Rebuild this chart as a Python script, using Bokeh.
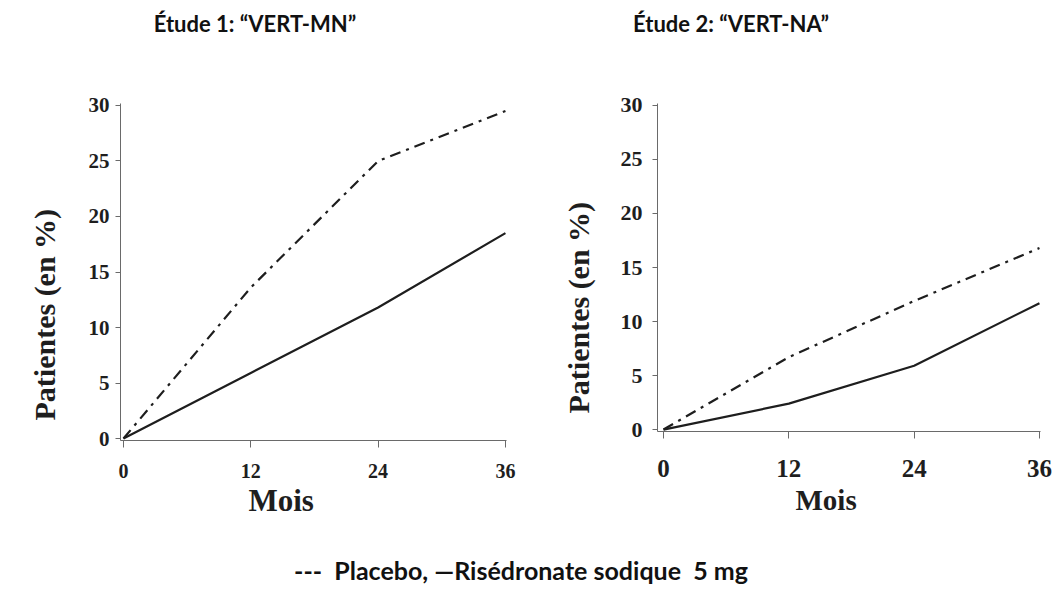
from bokeh.plotting import figure
from bokeh.models import Range1d, FixedTicker, Div, Title
from bokeh.layouts import row, column
from bokeh.embed import file_html
from bokeh.resources import INLINE

months = [0, 12, 24, 36]
mn_placebo = [0, 13.6, 25.0, 29.5]
mn_rise = [0, 5.9, 11.8, 18.5]
na_placebo = [0, 6.7, 11.9, 16.8]
na_rise = [0, 2.4, 5.9, 11.7]
x_ticks = [0, 12, 24, 36]
y_ticks = [0, 5, 10, 15, 20, 25, 30]
titles = ["Étude 1: \u201cVERT-MN\u201d", "Étude 2: \u201cVERT-NA\u201d"]
y_title = "Patientes (en %)"
x_title = "Mois"
legend_text = "---  Placebo, \u2014Risédronate sodique  5 mg"

INK = "#1e1e1e"
AXIS = "#6a6a6a"
SERIF = "Liberation Serif"
SANS = "Lato"


def make(width, height, bl, br, fw, fh, xr, placebo, rise, ytick_fs, xtick_fs,
         ystand, xstand, mois_fs, mois_off, mois_stand, ylab_off, ylab_stand):
    p = figure(width=width, height=height, output_backend="svg",
               toolbar_location=None, min_border_left=bl, min_border_right=br,
               min_border_top=59, min_border_bottom=height - 59 - fh,
               frame_width=fw, frame_height=fh, margin=0,
               x_range=Range1d(*xr), y_range=Range1d(-0.18, 30.18))
    p.outline_line_color = None
    p.grid.visible = False
    for ax in (p.xaxis[0], p.yaxis[0]):
        ax.axis_line_color = AXIS
        ax.axis_line_width = 1
        ax.major_tick_line_color = AXIS
        ax.minor_tick_line_color = None
        ax.major_tick_in = 0
        ax.major_label_text_font = SERIF
        ax.major_label_text_font_style = "bold"
        ax.major_label_text_color = INK
    p.xaxis.ticker = FixedTicker(ticks=x_ticks)
    p.yaxis.ticker = FixedTicker(ticks=y_ticks)
    p.xaxis.major_tick_out = 7
    p.yaxis.major_tick_out = 5
    p.xaxis.major_label_text_font_size = xtick_fs
    p.yaxis.major_label_text_font_size = ytick_fs
    p.xaxis.major_label_standoff = xstand
    p.yaxis.major_label_standoff = ystand

    p.line(months, placebo, line_color=INK, line_width=2.2, line_dash="11 6 3 6")
    p.line(months, rise, line_color=INK, line_width=2.2)

    p.add_layout(Title(text=x_title, align="left", offset=mois_off,
                       standoff=mois_stand, text_font=SERIF, text_font_style="bold",
                       text_font_size=mois_fs, text_color=INK), "below")
    p.add_layout(Title(text=y_title, align="left", offset=ylab_off,
                       standoff=ylab_stand, text_font=SERIF, text_font_style="bold",
                       text_font_size="30px", text_color=INK), "left")
    return p


H = 496
p1 = make(528, H, 120, 22, 386, 337, (-0.28, 36.1), mn_placebo, mn_rise,
          "21px", "20px", 6, 16, "31px", 128, 0, 20, 50)
p2 = make(528, H, 129, 16, 383, 328, (-0.575, 36.1), na_placebo, na_rise,
          "22px", "25px", 10, 21, "29px", 138, 4, 18, 45)

span = ("position:absolute;transform:translateX(-50%);white-space:pre;"
        "font-family:Lato;font-weight:bold;color:#111111;")
top_html = (
    '<div style="position:relative;width:1056px;height:44px;overflow:hidden">'
    f'<span style="{span}left:255px;top:11px;font-size:22px;line-height:26px">{titles[0]}</span>'
    f'<span style="{span}left:731px;top:11px;font-size:22px;line-height:26px">{titles[1]}</span>'
    '</div>')
bot_html = (
    '<div style="position:relative;width:1056px;height:49px;overflow:hidden">'
    f'<span style="{span}left:521px;top:16px;font-size:25px;line-height:28px">{legend_text}</span>'
    '</div>')
top_div = Div(text=top_html, width=1056, height=44, margin=0)
bot_div = Div(text=bot_html, width=1056, height=49, margin=0)

layout = column(top_div, row(p1, p2, margin=0), bot_div, margin=0)
open("out.html", "w").write(file_html(layout, INLINE))
